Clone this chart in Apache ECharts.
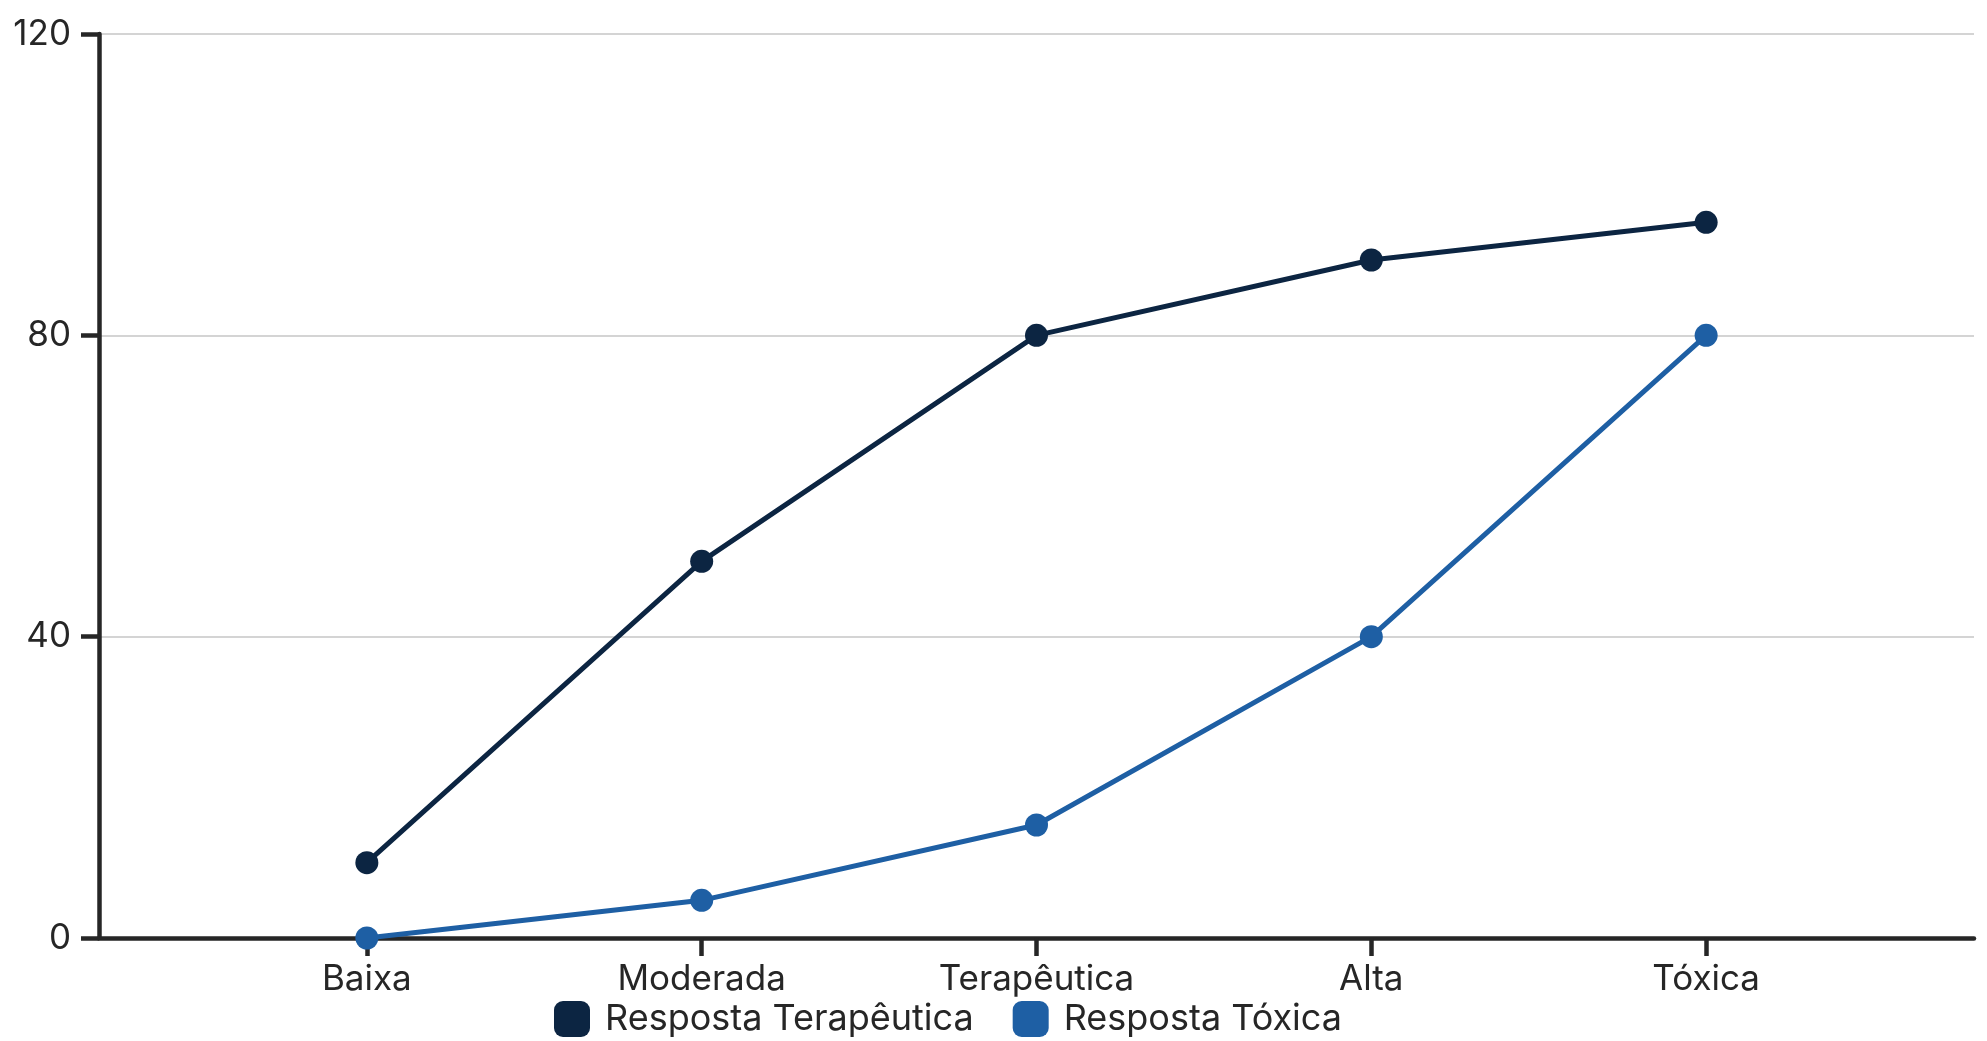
<!DOCTYPE html>
<html>
<head>
<meta charset="utf-8">
<script src="https://cdn.jsdelivr.net/npm/echarts@6/dist/echarts.min.js"></script>
<style>
html,body{margin:0;padding:0;background:#fff;}
#chart{width:1987px;height:1041px;}
</style>
</head>
<body>
<div id="chart"></div>
<script>
const categories = ['Baixa', 'Moderada', 'Terapêutica', 'Alta', 'Tóxica'];
const seriesNames = ['Resposta Terapêutica', 'Resposta Tóxica'];
const terapeutica = [10, 50, 80, 90, 95];
const toxica = [0, 5, 15, 40, 80];
const yTicks = [0, 40, 80, 120];

const FONT = 'Inter';
const TEXT = '#262626';
const AXIS = '#262626';
const colors = ['#0c2542', '#1e5fa4'];

function pairs(arr) { return arr.map((v, i) => [i, v]); }
const catIdx = categories.map((c, i) => i);

const chart = echarts.init(document.getElementById('chart'), null, {renderer: 'canvas'});
chart.setOption({
  animation: false,
  backgroundColor: '#ffffff',
  textStyle: {fontFamily: FONT},
  grid: {left: 99, right: 13, top: 34, bottom: 103, containLabel: false},
  legend: {
    left: 549, top: 996,
    icon: 'roundRect',
    itemWidth: 36, itemHeight: 36,
    itemGap: 39,
    textStyle: {fontFamily: FONT, fontSize: 36, color: TEXT, padding: [0, 0, 0, 10]},
    data: seriesNames
  },
  xAxis: {
    type: 'value',
    min: -0.8, max: 4.8,
    axisLine: {show: true, onZero: false, lineStyle: {color: AXIS, width: 4.5}},
    axisTick: {show: true, customValues: catIdx, length: 18, lineStyle: {color: AXIS, width: 4.5}},
    axisLabel: {
      customValues: catIdx,
      formatter: v => categories[Math.round(v)],
      fontFamily: FONT, fontSize: 35, color: TEXT, margin: 24
    },
    splitLine: {show: false}
  },
  yAxis: {
    type: 'value',
    min: 0, max: 120, interval: 40,
    axisLine: {show: true, onZero: false, lineStyle: {color: AXIS, width: 4.5}},
    axisTick: {show: true, customValues: yTicks, length: 18, lineStyle: {color: AXIS, width: 4.5}},
    axisLabel: {
      customValues: yTicks,
      fontFamily: FONT, fontSize: 35, color: TEXT, margin: 28
    },
    splitLine: {show: true, lineStyle: {color: '#d4d4d4', width: 2}}
  },
  series: [
    {
      name: seriesNames[0], type: 'line', data: pairs(terapeutica),
      symbol: 'circle', symbolSize: 23,
      lineStyle: {color: colors[0], width: 5},
      itemStyle: {color: colors[0]}, color: colors[0], z: 3
    },
    {
      name: seriesNames[1], type: 'line', data: pairs(toxica),
      symbol: 'circle', symbolSize: 23,
      lineStyle: {color: colors[1], width: 5},
      itemStyle: {color: colors[1]}, color: colors[1], z: 4
    }
  ]
});
</script>
</body>
</html>
